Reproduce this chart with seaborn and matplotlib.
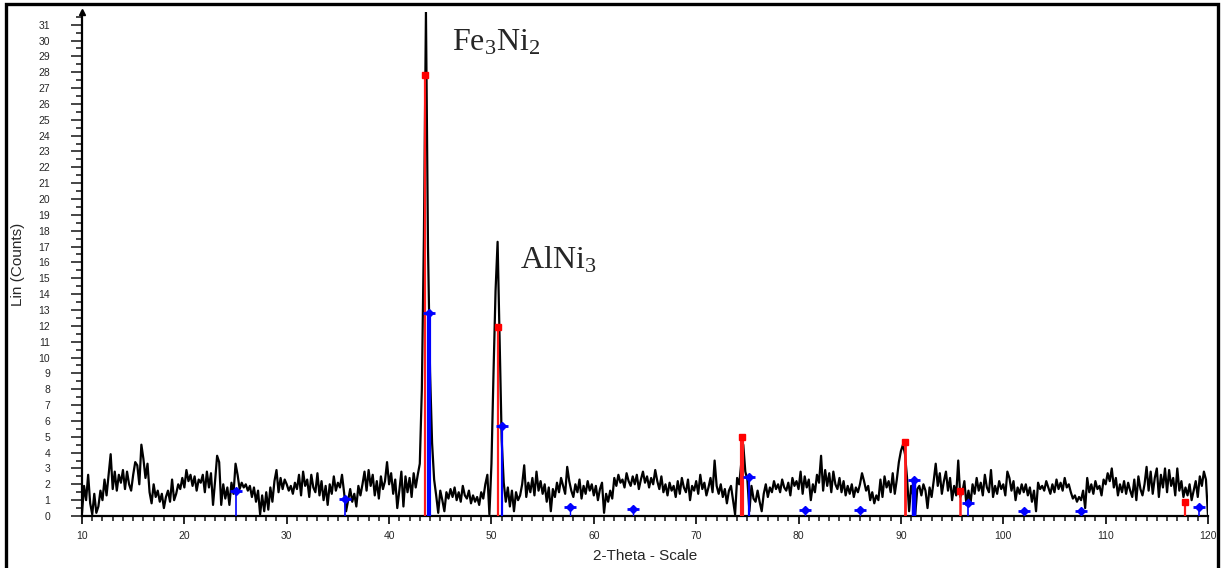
import numpy as np
import pandas as pd
import seaborn as sns
import matplotlib.pyplot as plt
from matplotlib.patches import Rectangle

# scan: 2-theta from 10 deg, step 0.2 deg
scan_start = 10.0
scan_step = 0.2
counts = [
    0.2, 1.9, 1.0, 2.6, 0.8, 0.1, 1.4, 0.2, 0.6, 1.6,   # 10
    1.0, 2.3, 1.3, 2.6, 3.9, 1.7, 2.8, 1.6, 2.6, 2.1,   # 12
    2.9, 1.7, 2.8, 2.0, 1.6, 2.6, 3.4, 3.2, 2.0, 4.5,   # 14
    3.6, 2.4, 3.3, 1.5, 0.8, 2.0, 1.2, 1.6, 0.9, 1.4,   # 16
    0.5, 1.2, 1.6, 0.9, 2.3, 1.0, 1.4, 2.0, 1.7, 2.4,   # 18
    1.8, 2.9, 2.2, 2.6, 1.9, 2.5, 1.6, 2.3, 2.1, 2.6,   # 20
    1.5, 2.8, 1.8, 2.7, 0.7, 2.2, 3.8, 3.4, 0.7, 2.0,   # 22
    1.1, 1.8, 0.7, 2.1, 1.4, 3.3, 2.6, 1.7, 2.1, 1.8,   # 24
    2.0, 1.6, 1.9, 1.2, 1.8, 0.9, 1.6, 0.1, 1.3, 0.3,   # 26
    1.5, 0.4, 1.8, 0.9, 2.2, 2.9, 1.5, 2.4, 1.7, 2.3,   # 28
    2.0, 1.6, 1.9, 1.4, 2.1, 1.7, 2.6, 1.3, 2.8, 1.9,   # 30
    2.3, 1.2, 2.6, 1.8, 1.5, 2.7, 1.3, 2.2, 1.0, 1.9,   # 32
    0.7, 2.0, 1.4, 2.5, 1.6, 2.1, 1.8, 2.6, 1.5, 0.3,   # 34
    1.0, 1.7, 0.9, 1.4, 0.6, 1.9, 1.3, 2.0, 2.8, 1.6,   # 36
    2.9, 1.9, 2.6, 1.3, 2.2, 1.1, 2.5, 1.7, 2.2, 3.4,   # 38
    2.0, 2.7, 1.4, 2.3, 0.5, 1.6, 2.8, 0.6, 2.5, 1.5,   # 40
    2.4, 1.2, 2.7, 1.8, 2.6, 3.3, 8.0, 17.6, 31.8, 17.0,  # 42
    9.1, 4.6, 2.3, 1.3, 0.2, 1.6, 1.0, 0.3, 1.5, 1.1,   # 44
    1.7, 1.2, 1.8, 1.0, 1.5, 0.9, 1.9, 1.3, 1.1, 1.6,   # 46
    0.8, 1.3, 0.9, 1.2, 0.7, 1.5, 1.1, 2.0, 2.6, 0.1,   # 48
    3.3, 9.0, 14.2, 17.3, 11.0, 4.8, 2.1, 0.9, 1.8, 0.6,  # 50
    1.6, 0.3, 1.5, 1.0, 1.3, 2.0, 3.2, 1.2, 2.1, 1.5,   # 52
    2.4, 1.3, 2.8, 1.6, 2.2, 1.4, 2.0, 0.9, 1.8, 0.3,   # 54
    1.7, 1.2, 2.1, 1.5, 2.4, 1.9, 1.4, 3.1, 2.2, 1.6,   # 56
    1.2, 2.0, 1.5, 2.3, 1.1, 1.9, 1.4, 2.2, 1.6, 2.0,   # 58
    1.3, 1.9, 1.0, 1.7, 2.1, 0.2, 1.4, 0.9, 1.6, 1.1,   # 60
    2.4, 1.9, 2.6, 2.1, 2.3, 1.8, 2.7, 2.2, 1.9, 2.5,   # 62
    2.0, 2.6, 1.7, 2.3, 2.8, 2.1, 2.5, 1.8, 2.4, 2.0,   # 64
    2.9, 2.2, 1.7, 2.5, 1.5, 2.0, 1.3, 2.1, 1.6, 1.9,   # 66
    1.2, 2.2, 1.4, 2.4, 1.8, 1.5, 2.3, 1.0, 1.9, 1.6,   # 68
    2.2, 1.4, 2.6, 1.7, 2.1, 1.3, 1.8, 2.4, 1.5, 3.5,   # 70
    1.9, 1.4, 2.0, 1.2, 1.7, 0.8, 1.6, 1.9, 1.0, 0.1,   # 72
    2.4, 2.0, 3.3, 4.5, 2.8, 2.3, 0.3, 1.9, 1.1, 0.9,   # 74
    1.6, 0.9, 0.3, 1.4, 2.0, 1.2, 1.8, 1.5, 2.2, 1.7,   # 76
    2.0, 1.5, 2.3, 1.8, 1.6, 2.1, 1.3, 2.4, 1.9, 2.2,   # 78
    1.7, 2.8, 1.4, 2.5, 1.8, 2.3, 1.0, 2.0, 1.5, 2.6,   # 80
    2.1, 3.8, 1.6, 2.9, 1.9, 2.7, 1.5, 2.8, 2.0, 1.7,   # 82
    2.4, 1.5, 2.2, 1.3, 1.9, 1.4, 2.0, 1.2, 1.8, 1.5,   # 84
    2.0, 2.7, 2.2, 1.6, 1.9, 1.0, 1.5, 0.8, 1.3, 1.0,   # 86
    2.3, 1.2, 2.5, 1.8, 2.2, 1.5, 2.7, 1.4, 2.3, 3.4,   # 88
    4.1, 4.5, 3.9, 2.4, 0.3, 1.9, 1.3, 0.1, 1.7, 1.9,   # 90
    1.3, 2.0, 1.6, 0.5, 1.8, 1.2, 2.2, 3.3, 1.9, 2.7,   # 92
    1.4, 2.2, 2.8, 1.6, 2.4, 1.0, 1.9, 1.3, 3.5, 1.2,   # 94
    1.5, 2.2, 0.7, 1.6, 0.8, 2.0, 1.4, 2.4, 1.6, 2.1,   # 96
    1.3, 2.6, 1.8, 1.5, 2.9, 1.2, 1.9, 1.4, 2.2, 1.7,   # 98
    2.0, 1.3, 2.8, 2.4, 1.6, 2.2, 1.0, 1.8, 1.4, 2.0,   # 100
    1.5, 2.0, 1.3, 1.8, 0.9, 1.6, 0.3, 2.1, 1.7, 1.9,   # 102
    1.6, 2.2, 1.8, 1.4, 2.0, 1.5, 2.3, 1.7, 2.1, 1.6,   # 104
    2.4, 1.8, 2.0, 1.5, 1.1, 1.3, 0.9, 1.2, 1.0, 1.6,   # 106
    0.5, 2.4, 1.5, 2.0, 1.4, 2.2, 1.7, 1.9, 1.3, 2.3,   # 108
    2.0, 2.7, 2.2, 3.0, 1.8, 2.4, 1.3, 2.0, 1.5, 2.2,   # 110
    1.4, 2.1, 1.6, 1.2, 2.3, 1.0, 2.5, 1.7, 1.3, 2.0,   # 112
    3.1, 1.6, 2.8, 1.4, 2.4, 3.0, 1.2, 2.6, 1.8, 3.0,   # 114
    1.5, 2.9, 1.9, 2.4, 1.3, 3.0, 1.6, 2.2, 1.2, 1.8,   # 116
    1.3, 2.0, 1.0, 1.6, 2.2, 1.2, 2.5, 1.9, 2.8, 2.3,   # 118
    0.0,                                                 # 120
]

# reference patterns (position, relative height)
fe3ni2_pos = [43.55, 50.65, 74.5, 90.4, 95.75, 117.75]
fe3ni2_int = [27.8, 11.9, 5.0, 4.65, 1.55, 0.9]
alni3_pos = [25.0, 35.65, 43.85, 51.05, 57.7, 63.85, 75.15, 80.6, 86.0, 91.3, 96.6, 102.0, 107.55, 119.1]
alni3_int = [1.6, 1.1, 12.8, 5.65, 0.55, 0.45, 2.45, 0.4, 0.4, 2.25, 0.85, 0.3, 0.3, 0.55]
alni3_lw = [1.2, 1.2, 3.0, 1.6, 1.0, 1.0, 1.6, 1.0, 1.0, 3.2, 1.2, 1.0, 1.0, 1.2]
fe3ni2_lw = [1.6, 1.6, 3.0, 2.0, 1.8, 1.6]

df = pd.DataFrame({"two_theta": scan_start + scan_step * np.arange(len(counts)),
                   "counts": counts})

sns.set_theme(style="white")
plt.rcParams["font.family"] = ["Liberation Sans", "DejaVu Sans"]
plt.rcParams["mathtext.fontset"] = "custom"
plt.rcParams["mathtext.rm"] = "Liberation Serif"
plt.rcParams["mathtext.it"] = "Liberation Serif"

fig = plt.figure(figsize=(12.22, 5.68), dpi=100)
ax = fig.add_axes([82 / 1222, 1 - 516 / 568, (1208 - 82) / 1222, (516 - 12) / 568])

sns.lineplot(data=df, x="two_theta", y="counts", ax=ax, color="black",
             linewidth=1.6, zorder=2)

# stick patterns
for p, h, w in zip(fe3ni2_pos, fe3ni2_int, fe3ni2_lw):
    ax.vlines(p, 0, h, color="#ff1a1a", linewidth=w, zorder=3)
    ax.plot(p, h, marker="s", markersize=4, color="#ff0000", zorder=4)
for p, h, w in zip(alni3_pos, alni3_int, alni3_lw):
    ax.vlines(p, 0, h, color="#0000ff", linewidth=w, zorder=3)
    ax.plot(p, h, marker="D", markersize=4, color="#0000ff", zorder=4)
    ax.plot(p, h, marker="_", markersize=9, markeredgewidth=2, color="#0000ff", zorder=4)

ax.set_xlim(10, 120)
ax.set_ylim(0, 31.8)
ax.set_xticks(np.arange(10, 121, 10))
ax.set_xticks(np.arange(10, 121, 1), minor=True)
ax.set_yticks(np.arange(0, 32, 1))
ax.set_yticks(np.arange(0.5, 31.6, 1), minor=True)
ax.tick_params(axis="y", which="major", direction="out", length=8, width=1.2,
               pad=15, labelsize=7.5, left=True)
ax.tick_params(axis="y", which="minor", direction="out", length=4.5, width=1.2, left=True)
ax.tick_params(axis="x", which="major", direction="out", length=5.5, width=1.4,
               pad=5, labelsize=7.5, bottom=True)
ax.tick_params(axis="x", which="minor", direction="out", length=3.5, width=1.2, bottom=True)

for s in ["top", "right"]:
    ax.spines[s].set_visible(False)
for s in ["left", "bottom"]:
    ax.spines[s].set_color("black")
    ax.spines[s].set_linewidth(1.6)
ax.plot(0, 1, marker="^", markersize=5, color="black", transform=ax.transAxes,
        clip_on=False, zorder=5)

ax.set_xlabel("2-Theta - Scale", fontsize=11)
ax.set_ylabel("Lin (Counts)", fontsize=11)
ax.yaxis.set_label_coords(-0.0505, 0.50)
ax.xaxis.set_label_coords(0.50, -0.066)

ax.text(46.1, 29.4, r"Fe$_3$Ni$_2$", fontsize=23, family="Liberation Serif",
        ha="left", va="baseline")
ax.text(52.8, 15.6, r"AlNi$_3$", fontsize=23, family="Liberation Serif",
        ha="left", va="baseline")

fig.add_artist(Rectangle((5.5 / 1222, -0.05), (1217.5 - 5.5) / 1222, 1.05 - 3.5 / 568,
                         transform=fig.transFigure, fill=False, edgecolor="black",
                         linewidth=2.4, clip_on=False))

fig.savefig("out.png", dpi=100)
